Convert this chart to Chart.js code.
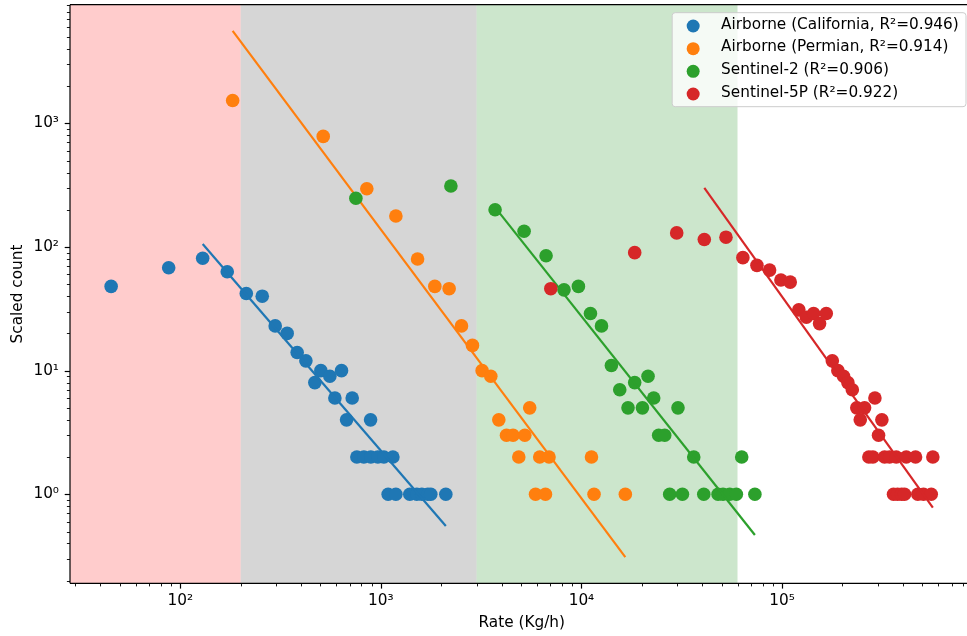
<!DOCTYPE html>
<html>
<head>
<meta charset="utf-8">
<script src="https://cdn.jsdelivr.net/npm/chart.js@4/dist/chart.umd.min.js"></script>
<style>
html,body{margin:0;padding:0;background:#fff;overflow:hidden;}
#wrap{width:967px;height:636px;overflow:hidden;position:relative;}
#c{position:absolute;left:0;top:0;}
</style>
</head>
<body>
<div id="wrap"><canvas id="c" width="974" height="636"></canvas></div>
<script>
// ---------------- data ----------------
const seriesLabels = [
  'Airborne (California, R²=0.946)',
  'Airborne (Permian, R²=0.914)',
  'Sentinel-2 (R²=0.906)',
  'Sentinel-5P (R²=0.922)'
];

const caRate  = [45.2, 87.5, 129.3, 171.4, 213.3, 256.2, 297.3, 341, 382.6, 422.9, 468.6, 502, 556.8, 636.5, 589.8, 719.6, 674.5, 888.7, 759, 822.5, 891, 966, 1035, 1148, 1087, 1188, 1394, 1511, 1600, 1714, 1774, 2108];
const caCount = [48, 68, 81, 63, 42, 40, 23, 20, 14, 12, 8, 10, 9, 10, 6, 6, 4, 4, 2, 2, 2, 2, 2, 2, 1, 1, 1, 1, 1, 1, 1, 1];

const pmRate  = [182.4, 515.9, 851, 1188, 1524, 1858, 2189, 2523, 2862, 3197, 3532, 3872, 4230, 4561, 5219, 5522, 4871, 6195, 6893, 11220, 5904, 6616, 11556, 16550];
const pmCount = [1531, 784, 296, 178, 80, 48, 46, 23, 16, 10, 9, 4, 3, 3, 3, 5, 2, 2, 2, 2, 1, 1, 1, 1];

const s2Rate  = [750.6, 2234, 3711, 5177, 6662, 8186, 9657, 11090, 12590, 14100, 15520, 17070, 18430, 20140, 21480, 22920, 24270, 26010, 30290, 36300, 62950, 27540, 31870, 40730, 47990, 50780, 54840, 59200, 73250];
const s2Count = [248, 311, 200, 134, 85, 45, 48, 29, 23, 11, 7, 5, 8, 5, 9, 6, 3, 3, 5, 2, 2, 1, 1, 1, 1, 1, 1, 1, 1];

const s5Rate  = [7034, 18430, 29850, 40980, 52550, 63800, 74990, 86710, 98750, 109900, 121300, 132300, 143700, 153900, 166200, 178100, 189900, 202700, 213000, 224100, 290500, 236000, 258000, 245500, 314700, 302900, 271000, 283800, 324500, 343600, 371100, 416300, 463200, 564900, 359700, 376700, 394500, 408200, 475400, 507500, 554600];
const s5Count = [46, 90, 130, 115, 120, 82, 71, 65, 54, 52, 31, 27, 29, 24, 29, 12, 10, 9, 8, 7, 6, 5, 5, 4, 4, 3, 2, 2, 2, 2, 2, 2, 2, 2, 1, 1, 1, 1, 1, 1, 1];

// fitted power-law lines (end points)
const caFitRate = [129.3, 2108],   caFitCount = [105.6, 0.554];
const pmFitRate = [182.4, 16550],  pmFitCount = [5595, 0.31];
const s2FitRate = [3711, 73250],   s2FitCount = [209, 0.469];
const s5FitRate = [40980, 564900], s5FitCount = [301, 0.78];

// shaded rate bands (edges in Kg/h)
const bandEdges = [200, 3000, 60000];

// tick labels
const xTickValues = [100, 1000, 10000, 100000];
const xTickLabels = ['10²', '10³', '10⁴', '10⁵'];
const yTickValues = [1, 10, 100, 1000];
const yTickLabels = ['10⁰', '10¹', '10²', '10³'];

// ---------------- styling ----------------
const colors = ['#1f77b4', '#ff7f0e', '#2ca02c', '#d62728'];
const bandColors = ['rgba(255,0,0,0.2)', 'rgba(128,128,128,0.32)', 'rgba(0,128,0,0.2)'];
const FONT = 'DejaVu Sans';
const FS = 15.3;
Chart.defaults.font.family = FONT;
Chart.defaults.font.size = FS;
Chart.defaults.color = '#000';

const series = [
  {rate: caRate, count: caCount, fx: caFitRate, fy: caFitCount},
  {rate: pmRate, count: pmCount, fx: pmFitRate, fy: pmFitCount},
  {rate: s2Rate, count: s2Count, fx: s2FitRate, fy: s2FitCount},
  {rate: s5Rate, count: s5Count, fx: s5FitRate, fy: s5FitCount}
];

const datasets = [];
series.forEach((s, i) => {
  datasets.push({
    label: seriesLabels[i],
    data: s.rate.map((x, j) => ({x: x, y: s.count[j]})),
    backgroundColor: colors[i],
    borderColor: colors[i],
    borderWidth: 0,
    pointRadius: 6.8,
    pointHoverRadius: 6.8,
    showLine: false,
    order: 100 - 2 * i,
    isFit: false
  });
  datasets.push({
    label: '',
    data: s.fx.map((x, j) => ({x: x, y: s.fy[j]})),
    borderColor: colors[i],
    backgroundColor: colors[i],
    borderWidth: 2.2,
    pointRadius: 0,
    pointHoverRadius: 0,
    showLine: true,
    fill: false,
    order: 100 - 2 * i - 1,
    isFit: true
  });
});

function logTicks(min, max) {
  const out = [];
  const e0 = Math.floor(Math.log10(min)), e1 = Math.ceil(Math.log10(max));
  for (let e = e0; e <= e1; e++) {
    for (let m = 1; m <= 9; m++) {
      const v = parseFloat((m * Math.pow(10, e)).toPrecision(6));
      if (v >= min && v <= max) out.push({value: v});
    }
  }
  return out;
}
function labelFrom(values, labels, v) {
  for (let i = 0; i < values.length; i++) {
    if (Math.abs(v - values[i]) / values[i] < 1e-6) return labels[i];
  }
  return '';
}

const bandsPlugin = {
  id: 'bands',
  beforeDatasetsDraw(chart) {
    const {ctx, chartArea: a, scales: {x}} = chart;
    ctx.save();
    ctx.beginPath();
    ctx.rect(a.left, a.top, a.right - a.left, a.bottom - a.top);
    ctx.clip();
    let prev = a.left;
    bandEdges.forEach((edge, i) => {
      const px = x.getPixelForValue(edge);
      ctx.fillStyle = bandColors[i];
      ctx.fillRect(prev, a.top, px - prev, a.bottom - a.top);
      prev = px;
    });
    ctx.restore();
  }
};

const frameTicksPlugin = {
  id: 'frameTicks',
  afterDraw(chart) {
    const {ctx, chartArea: a, scales: {x, y}} = chart;
    ctx.save();
    ctx.strokeStyle = '#000';
    x.ticks.forEach(t => {
      const major = labelFrom(xTickValues, xTickLabels, t.value) !== '';
      const px = Math.round(x.getPixelForValue(t.value)) + 0.5;
      ctx.lineWidth = major ? 1.2 : 0.9;
      ctx.beginPath();
      ctx.moveTo(px, a.bottom);
      ctx.lineTo(px, a.bottom + (major ? 5.3 : 3.1));
      ctx.stroke();
    });
    y.ticks.forEach(t => {
      const major = labelFrom(yTickValues, yTickLabels, t.value) !== '';
      const py = Math.round(y.getPixelForValue(t.value)) + 0.5;
      ctx.lineWidth = major ? 1.2 : 0.9;
      ctx.beginPath();
      ctx.moveTo(a.left, py);
      ctx.lineTo(a.left - (major ? 5.3 : 3.1), py);
      ctx.stroke();
    });
    ctx.lineWidth = 1.2;
    ctx.beginPath();
    ctx.moveTo(a.left, a.top); ctx.lineTo(a.right, a.top);
    ctx.moveTo(a.left, a.top); ctx.lineTo(a.left, a.bottom);
    ctx.moveTo(a.left, a.bottom); ctx.lineTo(a.right, a.bottom);
    ctx.moveTo(a.right, a.top); ctx.lineTo(a.right, a.bottom);
    ctx.stroke();
    ctx.restore();
  }
};

const legendPlugin = {
  id: 'boxLegend',
  afterDraw(chart) {
    const {ctx, chartArea: a} = chart;
    const items = chart.data.datasets.filter(d => !d.isFit);
    ctx.save();
    ctx.font = FS + 'px "' + FONT + '"';
    let tw = 0;
    items.forEach(d => { tw = Math.max(tw, ctx.measureText(d.label).width); });
    const rowH = 22.67;
    const boxW = 48.9 + tw + 7.2;
    const boxH = 94;
    const right = a.right - 7.5;
    const left = right - boxW;
    const top = a.top + 8;
    ctx.beginPath();
    if (ctx.roundRect) ctx.roundRect(left, top, boxW, boxH, 3); else ctx.rect(left, top, boxW, boxH);
    ctx.fillStyle = 'rgba(255,255,255,0.8)';
    ctx.fill();
    ctx.strokeStyle = '#cccccc';
    ctx.lineWidth = 1;
    ctx.stroke();
    items.forEach((d, i) => {
      const cy = top + 13.3 + i * rowH;
      ctx.beginPath();
      ctx.arc(left + 21, cy, 6.5, 0, Math.PI * 2);
      ctx.fillStyle = d.backgroundColor;
      ctx.fill();
      ctx.fillStyle = '#000';
      ctx.textAlign = 'left';
      ctx.textBaseline = 'middle';
      ctx.fillText(d.label, left + 48.9, cy - 1.2);
    });
    ctx.restore();
  }
};

new Chart(document.getElementById('c'), {
  type: 'scatter',
  data: {datasets: datasets},
  plugins: [bandsPlugin, frameTicksPlugin, legendPlugin],
  options: {
    responsive: false,
    devicePixelRatio: 1,
    animation: false,
    events: [],
    layout: {autoPadding: false, padding: {top: 4.7, right: 0.5, bottom: 0, left: 0}},
    plugins: {legend: {display: false}, tooltip: {enabled: false}},
    scales: {
      x: {
        type: 'logarithmic',
        position: 'bottom',
        min: 28.19,
        max: 900900,
        bounds: 'data',
        grid: {display: false, drawTicks: false},
        border: {display: false},
        ticks: {
          autoSkip: false, maxRotation: 0, minRotation: 0, padding: 8.3,
          color: '#000', font: {family: FONT, size: FS},
          callback: (v) => labelFrom(xTickValues, xTickLabels, v)
        },
        afterBuildTicks: (s) => { s.ticks = logTicks(s.min, s.max); },
        afterFit: (s) => { s.height = 636 - 583.3; s.paddingLeft = 0; s.paddingRight = 0; },
        title: {display: true, text: 'Rate (Kg/h)', color: '#000', font: {family: FONT, size: FS}, padding: {top: 0, bottom: 3.9}}
      },
      y: {
        type: 'logarithmic',
        position: 'left',
        min: 0.1906,
        max: 9105,
        bounds: 'data',
        grid: {display: false, drawTicks: false},
        border: {display: false},
        ticks: {
          autoSkip: false, padding: 11,
          color: '#000', font: {family: FONT, size: FS},
          callback: (v) => labelFrom(yTickValues, yTickLabels, v)
        },
        afterBuildTicks: (s) => { s.ticks = logTicks(s.min, s.max); },
        afterFit: (s) => { s.width = 70; s.paddingTop = 0; s.paddingBottom = 0; },
        title: {display: true, text: 'Scaled count', color: '#000', font: {family: FONT, size: FS}, padding: {top: 8.7, bottom: 0}}
      }
    }
  }
});
</script>
</body>
</html>
